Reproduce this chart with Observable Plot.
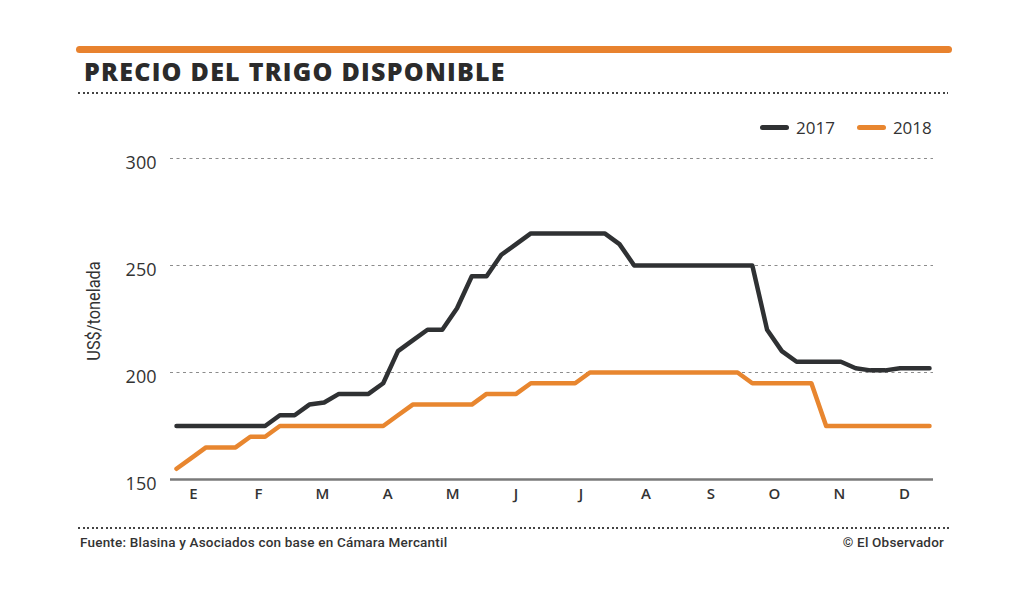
<!DOCTYPE html>
<html>
<head>
<meta charset="utf-8">
<script src="https://cdn.jsdelivr.net/npm/d3@7"></script>
<script src="https://cdn.jsdelivr.net/npm/@observablehq/plot@0.6"></script>
<style>
  html, body { margin: 0; padding: 0; background: #fff; }
  #page { position: relative; width: 1024px; height: 597px; overflow: hidden; background: #fff; font-family: "Open Sans", sans-serif; color: #333; }
  .topbar { position: absolute; left: 76px; top: 46px; width: 876px; height: 7px; border-radius: 4px; background: #E8822E; }
  .title { position: absolute; left: 84px; top: 55px; font-family: "Open Sans", sans-serif; font-weight: 800; font-size: 25px; line-height: 32px; color: #2b2b2b; letter-spacing: 1.25px; white-space: nowrap; }
  .dots { position: absolute; height: 2px; background: repeating-linear-gradient(to right, #444 0 2px, transparent 2px 4.6px); }
  .legend { position: absolute; top: 116px; left: 760px; display: flex; align-items: center; font-size: 17px; color: #333; white-space: nowrap; }
  .sw { display: inline-block; width: 29px; height: 5px; border-radius: 3px; margin-right: 7px; }
  .ylabel { position: absolute; left: 93px; top: 311px; transform: translate(-50%, -50%) rotate(-90deg) scaleX(0.86); font-family: "Roboto", sans-serif; font-size: 19px; color: #333; white-space: nowrap; }
  .footer { position: absolute; top: 534px; font-family: "Roboto", sans-serif; font-size: 13.5px; font-weight: 500; letter-spacing: 0.2px; color: #333; white-space: nowrap; }
  #chart { position: absolute; left: 0; top: 100px; }
</style>
</head>
<body>
<div id="page">
  <div class="topbar"></div>
  <div class="title">PRECIO DEL TRIGO DISPONIBLE</div>
  <div class="dots" style="left:78px; top:92px; width:870px;"></div>
  <div class="legend">
    <span class="sw" style="background:#2f3133"></span><span style="margin-right:22px">2017</span>
    <span class="sw" style="background:#E8862F"></span><span>2018</span>
  </div>
  <div class="ylabel">US$/tonelada</div>
  <div id="chart"></div>
  <div class="dots" style="left:78px; top:527px; width:872px;"></div>
  <div class="footer" style="left:80px;">Fuente: Blasina y Asociados con base en Cámara Mercantil</div>
  <div class="footer" style="right:80px;">© El Observador</div>
</div>
<script>
// Weekly prices (US$/tonelada), index = week of year
const values2017 = [175,175,175,175,175,175,175,180,180,185,186,190,190,190,195,210,215,220,220,230,245,245,255,260,265,265,265,265,265,265,260,250,250,250,250,250,250,250,250,250,220,210,205,205,205,205,202,201,201,202,202,202];
const values2018 = [155,160,165,165,165,170,170,175,175,175,175,175,175,175,175,180,185,185,185,185,185,190,190,190,195,195,195,195,200,200,200,200,200,200,200,200,200,200,200,195,195,195,195,195,175,175,175,175,175,175,175,175];
const monthLabels = ["E","F","M","A","M","J","J","A","S","O","N","D"];
const monthPos = [1.15,5.56,9.89,14.3,18.7,23.0,27.4,31.8,36.2,40.5,44.9,49.3];
const yTicks = [150,200,250,300];
const gridTicks = [200,250,300];

const rows = [];
values2017.forEach((v,i) => rows.push({week:i, price:v, year:"2017"}));
values2018.forEach((v,i) => rows.push({week:i, price:v, year:"2018"}));

const chart = Plot.plot({
  width: 1024,
  height: 420,
  marginTop: 58,
  marginBottom: 41,
  marginLeft: 170,
  marginRight: 91,
  x: {domain: [0, 51], insetLeft: 6, insetRight: 4, axis: null},
  y: {domain: [150, 300]},
  color: {domain: ["2017","2018"], range: ["#2f3133","#E8862F"]},
  style: {fontFamily: "'Open Sans', sans-serif", background: "transparent", overflow: "visible"},
  marks: [
    Plot.ruleY(gridTicks, {stroke: "#8c8c8c", strokeWidth: 1, strokeDasharray: "3,3.5"}),
    Plot.axisY(yTicks, {tickSize: 0, tickPadding: 14, fontSize: 18, fill: "#333", dy: 5, label: null}),
    Plot.ruleY([150], {stroke: "#7a7a7a", strokeWidth: 2.5}),
    Plot.line(rows, {x: "week", y: "price", z: "year", stroke: "year", strokeWidth: 4.5, strokeLinejoin: "round", strokeLinecap: "round"}),
    Plot.text(monthLabels, {x: (d,i) => monthPos[i], frameAnchor: "bottom", dy: 19, text: d => d, fontSize: 15, fontWeight: 600, fill: "#333"})
  ]
});
document.getElementById("chart").appendChild(chart);
</script>
</body>
</html>
